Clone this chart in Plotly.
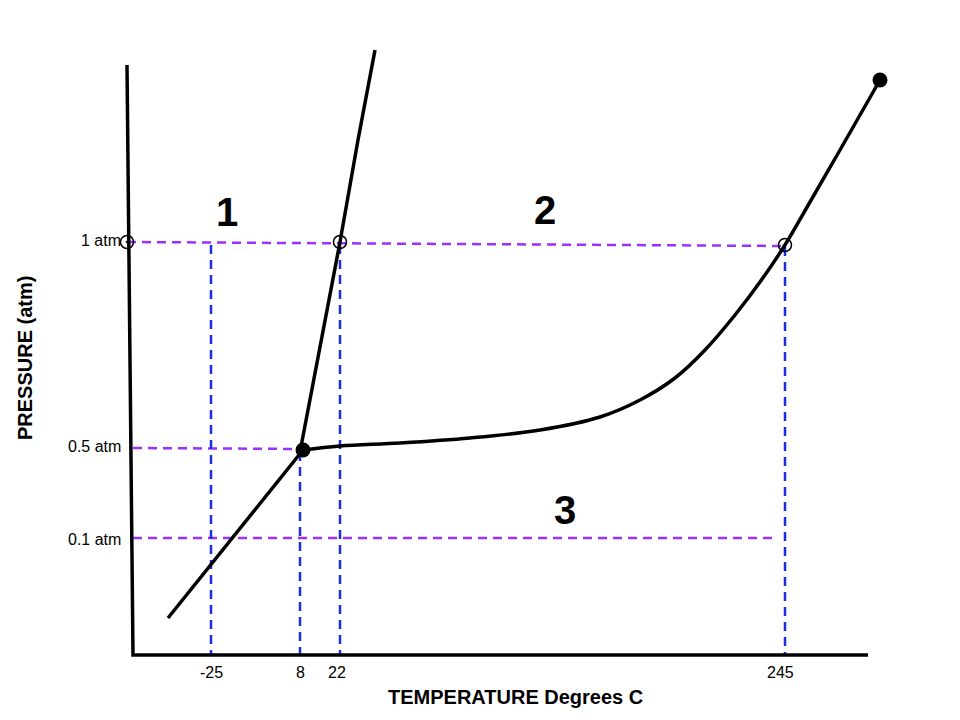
import plotly.graph_objects as go

# schematic diagram: coordinates are in drawing units (0..960 across, 0..720 down)
axis_x = [127, 133, 868]
axis_y = [65, 655, 655]

fusion_x = [300, 320, 340, 358, 375]
fusion_y = [452, 345, 242, 140, 50]

sublim_x = [168, 303]
sublim_y = [618, 450]

vapor_x = [303, 340, 400, 470, 540, 600, 640, 675, 705, 735, 760, 785, 810, 840, 880]
vapor_y = [450, 446, 443, 438, 430, 417, 400, 378, 350, 315, 282, 245, 202, 150, 80]

ring_x = [127, 340, 785]
ring_y = [242, 242, 245]
dot_x = [303, 880]
dot_y = [450, 80]

# purple horizontal guides: (x0, x1, y0, y1)
h_guides = [(127, 785, 242, 246), (133, 303, 448, 449), (133, 778, 538, 538)]
# blue vertical guides: (x, y_top)
v_guides = [(211, 245), (300, 452), (340, 245), (785, 247)]

p_labels = ["1 atm", "0.5 atm", "0.1 atm"]
p_label_y = [240, 446, 539]
t_labels = ["-25", "8", "22", "245"]
t_label_x = [211, 300, 337, 780]

regions = ["1", "2", "3"]
region_x = [227, 545, 565]
region_y = [212, 210, 510]

fig = go.Figure()

for x0, x1, y0, y1 in h_guides:
    fig.add_trace(go.Scatter(x=[x0, x1], y=[y0, y1], mode="lines",
                             line=dict(color="#9b30ff", width=2.5, dash="9px,6px")))
for x, yt in v_guides:
    fig.add_trace(go.Scatter(x=[x, x], y=[yt, 655], mode="lines",
                             line=dict(color="#1a2fe0", width=2.5, dash="9px,6px")))

for xs, ys in [(axis_x, axis_y), (fusion_x, fusion_y), (sublim_x, sublim_y)]:
    fig.add_trace(go.Scatter(x=xs, y=ys, mode="lines", line=dict(color="black", width=3.5)))
fig.add_trace(go.Scatter(x=vapor_x, y=vapor_y, mode="lines",
                         line=dict(color="black", width=3.5, shape="spline")))

fig.add_trace(go.Scatter(x=ring_x, y=ring_y, mode="markers",
                         marker=dict(symbol="circle-open-dot", size=13, color="black",
                                     line=dict(width=1.5))))
fig.add_trace(go.Scatter(x=dot_x, y=dot_y, mode="markers",
                         marker=dict(size=15, color="black")))

ann = []
for t, y in zip(p_labels, p_label_y):
    ann.append(dict(x=123, y=y, text=t, xanchor="right", showarrow=False,
                    font=dict(size=16, color="black")))
for t, x in zip(t_labels, t_label_x):
    ann.append(dict(x=x, y=672, text=t, showarrow=False, font=dict(size=16, color="black")))
for t, x, y in zip(regions, region_x, region_y):
    ann.append(dict(x=x, y=y, text="<b>%s</b>" % t, showarrow=False,
                    font=dict(size=40, color="black")))
ann.append(dict(x=515, y=697, text="<b>TEMPERATURE Degrees C</b>", showarrow=False,
                font=dict(size=20, color="black")))
ann.append(dict(x=25, y=358, text="<b>PRESSURE (atm)</b>", showarrow=False, textangle=-90,
                font=dict(size=20, color="black")))

# the page body adds an 8px offset, so shift the visible window to compensate
fig.update_layout(
    width=960, height=720, margin=dict(l=0, r=0, t=0, b=0),
    plot_bgcolor="white", paper_bgcolor="white", showlegend=False,
    font=dict(family="Liberation Sans, Arial"),
    xaxis=dict(range=[8, 968], visible=False, fixedrange=True),
    yaxis=dict(range=[728, 8], visible=False, fixedrange=True),
    annotations=ann,
)

fig.write_html("out.html")
